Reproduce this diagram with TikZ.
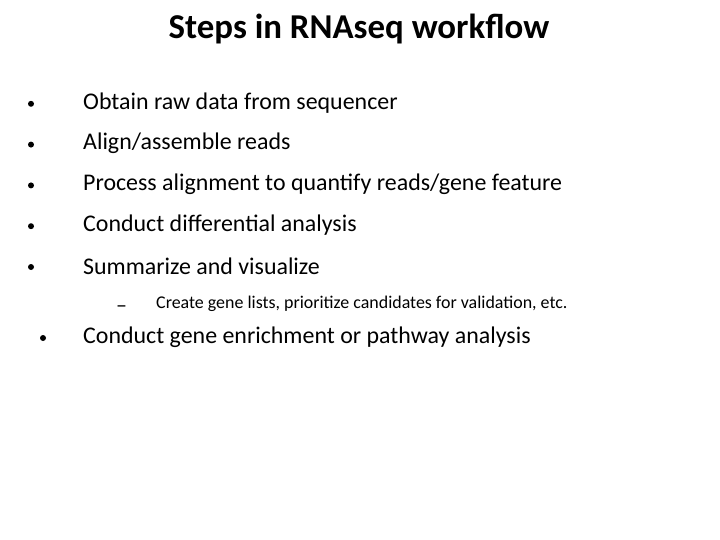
\documentclass[tikz,border=0pt]{standalone}
\usepackage{fontspec}
\setmainfont{Carlito}
\begin{document}
\begin{tikzpicture}[x=1bp,y=-1bp,
  item/.style={anchor=west,inner sep=0pt,font=\fontsize{24}{28}\selectfont},
  dot/.style={circle,fill=black,inner sep=0pt,minimum size=6bp},
  sub/.style={anchor=west,inner sep=0pt,font=\fontsize{18}{22}\selectfont}]
\useasboundingbox (0,0) rectangle (720,540);
\node[font=\bfseries\fontsize{35}{40}\selectfont] (title) at (359,29) {Steps in RNAseq workflow};
\foreach \txt [count=\i] in {Obtain raw data from sequencer,
    Align/assemble reads,
    Process alignment to quantify reads/gene feature,
    Conduct differential analysis,
    Summarize and visualize}{
  \node[dot] (b\i) at (31,{63+40.8*\i}) {};
  \node[item] (t\i) at (83,{62+40.8*\i}) {\txt};
}
\node[sub,font=\fontsize{22}{22}\selectfont] (d1) at (116,309) {\textendash};
\node[sub] (s1) at (156,304) {Create gene lists, prioritize candidates for validation, etc.};
\node[dot] (b6) at (43,338) {};
\node[item] (t6) at (83,337) {Conduct gene enrichment or pathway analysis};
\end{tikzpicture}
\end{document}
